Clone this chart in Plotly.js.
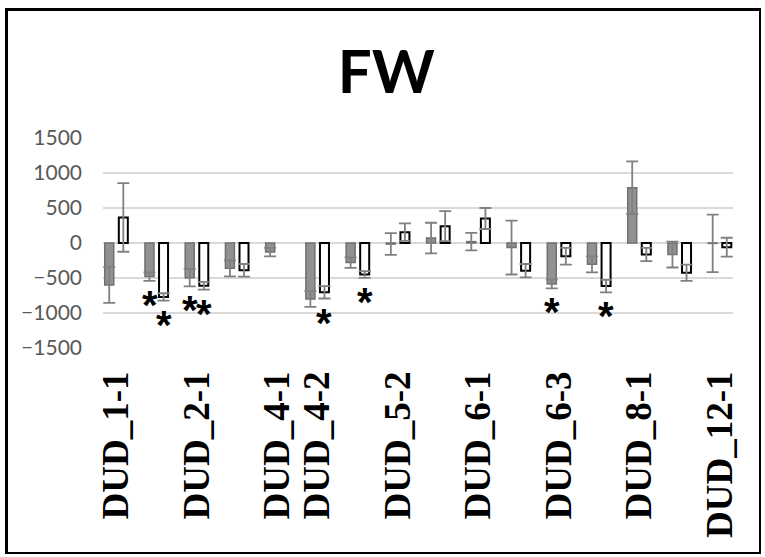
<!DOCTYPE html>
<html>
<head>
<meta charset="utf-8">
<script src="https://cdn.plot.ly/plotly-3.0.1.min.js"></script>
<style>
  html, body { margin: 0; padding: 0; background: #ffffff; }
  #wrap { position: relative; width: 765px; height: 557px; }
  #chart { position: absolute; left: 0; top: 0; width: 765px; height: 557px; }
  #frame { position: absolute; left: 5px; top: 8px; width: 751px; height: 541px;
           border-left: 3px solid #000; border-top: 3px solid #000;
           border-right: 2.5px solid #000; border-bottom: 2.5px solid #000;
           pointer-events: none; }
</style>
</head>
<body>
<div id="wrap">
  <div id="chart"></div>
  <div id="frame"></div>
</div>
<script>
// Category labels (blank = group without a visible label)
const categories = ["DUD_1-1", "", "DUD_2-1", "", "DUD_4-1", "DUD_4-2", "", "DUD_5-2",
                    "", "DUD_6-1", "", "DUD_6-3", "", "DUD_8-1", "", "DUD_12-1"];

// Series 1 (gray filled bars)
const grayValues = [-600, -480, -495, -362, -130, -800, -280, -15, 70, 20, -65, -586, -305, 790, -165, -5];
const grayErrors = [255, 60, 125, 115, 60, 112, 76, 155, 219, 124, 385, 62, 115, 376, 185, 410];
const graySig    = [0, 1, 1, 0, 0, 0, 0, 0, 0, 0, 0, 1, 0, 0, 0, 0];

// Series 2 (white outlined bars)
const whiteValues = [365, -770, -610, -390, null, -705, -450, 155, 240, 350, -395, -190, -615, -165, -425, -60];
const whiteErrors = [490, 52, 55, 90, null, 88, 48, 125, 214, 150, 95, 120, 90, 95, 115, 135];
const whiteSig    = [0, 1, 1, 0, 0, 1, 1, 0, 0, 0, 0, 0, 1, 0, 0, 0];

const yTicks = [-1500, -1000, -500, 0, 500, 1000, 1500];

const xIdx = categories.map((_, i) => i);
const tickvals = xIdx.filter(i => categories[i] !== "");
const ticktext = tickvals.map(i => categories[i]);

const errStyle = { type: 'data', visible: true, color: '#808080', thickness: 1.8, width: 6 };

const traces = [
  {
    type: 'bar', x: xIdx, y: grayValues, name: 'gray',
    marker: { color: '#919191', line: { color: '#707070', width: 1.5 } },
    error_y: Object.assign({ array: grayErrors }, errStyle),
    hoverinfo: 'skip'
  },
  {
    type: 'bar', x: xIdx, y: whiteValues, name: 'white',
    marker: { color: '#ffffff', line: { color: '#000000', width: 2 } },
    error_y: Object.assign({ array: whiteErrors }, errStyle),
    hoverinfo: 'skip'
  }
];

// significance asterisks below the lower error cap
const annotations = [];
function addStars(vals, errs, sig, shift) {
  sig.forEach((s, i) => {
    if (!s) return;
    annotations.push({
      x: i, y: vals[i] - errs[i], xref: 'x', yref: 'y',
      text: '*', showarrow: false, xshift: shift, yshift: -24,
      font: { family: 'Liberation Sans', size: 40, color: '#000000', weight: 'bold' }
    });
  });
}
addStars(grayValues, grayErrors, graySig, -7);
addStars(whiteValues, whiteErrors, whiteSig, 7);

const layout = {
  width: 765, height: 557,
  margin: { l: 103, r: 32, t: 138, b: 209, pad: 0 },
  paper_bgcolor: '#ffffff', plot_bgcolor: '#ffffff',
  showlegend: false,
  barmode: 'group', bargap: 0.3, bargroupgap: 0.36,
  title: {
    text: '<b>FW</b>', x: 0.505, xanchor: 'center', y: 1 - 72 / 557, yanchor: 'middle', yref: 'container',
    font: { family: 'Lato', size: 60, color: '#000000' }
  },
  xaxis: {
    type: 'linear', range: [-0.33, 15.33],
    tickvals: tickvals, ticktext: ticktext, tickangle: -90,
    showgrid: false, zeroline: false, showline: false, ticks: '',
    ticklabelstandoff: 15,
    tickfont: { family: 'Liberation Serif', size: 37, color: '#000000', weight: 'bold' }
  },
  yaxis: {
    range: [-1500, 1500], tickvals: yTicks,
    showgrid: true, gridcolor: '#d9d9d9', gridwidth: 1.5,
    zeroline: true, zerolinecolor: '#d9d9d9', zerolinewidth: 1.5,
    showline: false, ticks: '', ticklabelstandoff: 20,
    tickfont: { family: 'Lato', size: 21, color: '#595959' }
  },
  annotations: annotations
};

Plotly.newPlot('chart', traces, layout, { displayModeBar: false, staticPlot: true });
</script>
</body>
</html>
